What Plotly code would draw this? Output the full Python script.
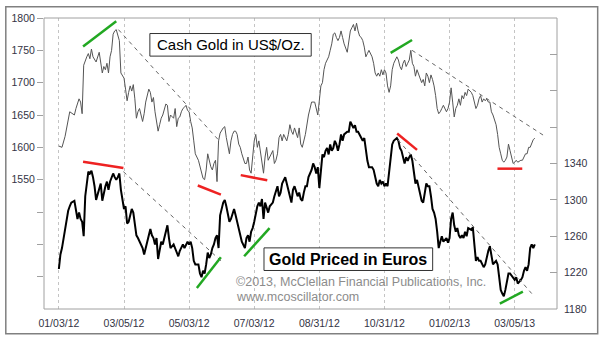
import plotly.graph_objects as go

# ---------------- data (trading-day index from 01/03/12) ----------------
usd_days = [0, 2, 4, 6, 7, 10, 11, 13, 14, 15, 16, 18, 19, 20, 21, 22, 24, 26, 28, 29, 30, 31, 32, 33, 34, 35, 36, 37, 38, 39,
            40, 42, 43, 44, 45, 46, 47, 48, 49, 50, 51, 52, 53, 54, 55, 56, 58, 59, 60, 61, 62, 63, 64, 65, 66, 67, 68, 69, 70,
            71, 72, 74, 75, 76, 77, 78, 79, 80, 81, 82, 83, 84, 85, 86, 87, 88, 90, 91, 92, 93, 94, 95, 96, 97, 98, 99, 100,
            101, 102, 103, 104, 106, 107, 108, 109, 110, 111, 112, 113, 114, 115, 116, 117, 118, 120, 121, 122, 123, 124,
            125, 126, 127, 128, 129, 130, 131, 132, 133, 134, 135, 136, 138, 139, 140, 141, 142, 143, 144, 145, 146, 147,
            148, 149, 150, 151, 152, 154, 155, 156, 157, 159, 161, 163, 165, 166, 167, 169, 170, 171, 172, 173, 174, 175,
            176, 177, 178, 179, 180, 181, 182, 183, 184, 186, 187, 188, 189, 190, 191, 192, 193, 194, 195, 196, 197, 198,
            199, 200, 202, 203, 204, 205, 206, 207, 208, 209, 210, 211, 212, 213, 214, 215, 216, 218, 219, 220, 221, 222,
            223, 224, 225, 226, 227, 228, 229, 230, 231, 232, 234, 235, 236, 237, 238, 239, 240, 241, 242, 243, 244, 245,
            246, 247, 248, 250, 251, 252, 253, 254, 255, 256, 257, 258, 259, 260, 261, 262, 263, 264, 266, 267, 268, 269,
            270, 271, 272, 273, 274, 275, 276, 277, 278, 279, 280, 282, 283, 284, 285, 286, 287, 288, 289, 290, 291, 292,
            293, 294, 295, 296, 298, 299, 300, 301, 302, 303, 304, 305, 306, 307]
usd_vals = [1602, 1600, 1617, 1640, 1655, 1650, 1660, 1675, 1670, 1652, 1727, 1740, 1745, 1737, 1752, 1740, 1732, 1747, 1715,
            1725, 1720, 1730, 1715, 1740, 1750, 1775, 1780, 1782, 1775, 1765,
            1715, 1707, 1690, 1672, 1685, 1695, 1687, 1697, 1675, 1645, 1655, 1660, 1650, 1640, 1652, 1670, 1690, 1685,
            1670, 1677, 1655, 1640, 1625, 1635, 1645, 1650, 1660, 1667, 1665,
            1640, 1650, 1645, 1660, 1632, 1645, 1647, 1655, 1660, 1662, 1665, 1657, 1655, 1640, 1630, 1610, 1590, 1580,
            1570, 1560, 1552, 1550, 1565, 1590, 1580, 1570, 1565, 1575,
            1580, 1547, 1610, 1622, 1630, 1632, 1615, 1600, 1590, 1610, 1620, 1625, 1625, 1620, 1605, 1600, 1590, 1575,
            1575, 1585, 1565, 1560,
            1590, 1610, 1620, 1600, 1610, 1595, 1580, 1560, 1585, 1600, 1580, 1585, 1595, 1575, 1580, 1590, 1615, 1620,
            1610, 1620, 1615, 1610,
            1620, 1635, 1625, 1620, 1630, 1615, 1630, 1605, 1600, 1620, 1650, 1670, 1670, 1660, 1650, 1695, 1700, 1720,
            1730, 1735, 1740, 1750,
            1760, 1775, 1777, 1770, 1765, 1770, 1780, 1770, 1760, 1747, 1765, 1780, 1785, 1790, 1780, 1792, 1780, 1772,
            1770, 1765, 1755, 1740,
            1745, 1750, 1740, 1730, 1715, 1710, 1715, 1710, 1720, 1712, 1720, 1715, 1695, 1685, 1695, 1720, 1730, 1740,
            1735, 1725, 1720, 1730,
            1735, 1725, 1730, 1735, 1750, 1730, 1725, 1710, 1720, 1712, 1700, 1705, 1695, 1715, 1710, 1700, 1712, 1705,
            1695, 1680, 1660, 1652,
            1655, 1660, 1665, 1655, 1660, 1670, 1692, 1670, 1647, 1660, 1665, 1675, 1665, 1680, 1675, 1685, 1680, 1690,
            1685, 1680, 1670, 1660,
            1665, 1675, 1680, 1670, 1675, 1672, 1675, 1670, 1670, 1655, 1650, 1635, 1620, 1600, 1590, 1580, 1577, 1580,
            1585, 1605, 1595, 1582,
            1575, 1577, 1580, 1577, 1580, 1580, 1585, 1590, 1590, 1600, 1600, 1607, 1612, 1614]

eur_days = [0, 1, 2, 3, 4, 5, 6, 7, 8, 10, 11, 12, 13, 14, 15, 16, 17, 18, 19, 20, 21, 22, 23, 24, 26, 27, 28, 29, 30, 31,
            32, 33, 34, 35, 36, 37, 38, 39, 40, 42, 43, 44, 45, 46, 47, 48, 49, 50, 51, 52, 53, 54, 55, 56, 58, 59, 60, 61,
            62, 63, 64, 65, 66, 67, 68, 69, 70, 71, 72, 74, 75, 76, 77, 78, 79, 80, 81, 82, 83, 84, 85, 86, 87, 88, 90, 91,
            92, 93, 94, 95, 96, 97, 98, 99, 100, 101, 102, 103, 104, 106, 107, 108, 109, 110, 111, 112, 113, 114, 115, 116,
            117, 118, 120, 121, 122, 123, 124, 125, 126, 127, 128, 129, 130, 131, 132, 133, 134, 135, 136, 138, 139, 140,
            141, 142, 143, 144, 145, 146, 147, 148, 149, 150, 151, 152, 154, 155, 156, 157, 158, 159, 160, 161, 162, 163,
            164, 165, 166, 167, 168, 170, 171, 172, 173, 174, 175, 176, 177, 178, 179, 180, 181, 182, 183, 184, 186, 187,
            188, 189, 190, 191, 192, 193, 194, 195, 196, 197, 198, 199, 200, 202, 203, 204, 205, 206, 207, 208, 209, 210,
            211, 212, 213, 214, 215, 216, 218, 219, 220, 221, 222, 223, 224, 225, 226, 227, 228, 229, 230, 231, 232, 234,
            235, 236, 237, 238, 239, 240, 241, 242, 243, 244, 245, 246, 247, 248, 250, 251, 252, 253, 254, 255, 256, 257,
            258, 259, 260, 261, 262, 263, 264, 266, 267, 268, 269, 270, 271, 272, 273, 274, 275, 276, 277, 278, 279, 280,
            282, 283, 284, 285, 286, 287, 288, 289, 290, 291, 292, 293, 294, 295, 296, 298, 299, 300, 301, 302, 303, 304,
            305, 306, 307]
eur_vals = [1224, 1240, 1247, 1258, 1268, 1276, 1288, 1293, 1297, 1299, 1290, 1279, 1286, 1279, 1276, 1260, 1304, 1315, 1331,
            1329, 1332, 1325, 1315, 1300, 1311, 1318, 1299, 1308, 1315, 1320,
            1311, 1320, 1324, 1329, 1325, 1322, 1325, 1329, 1311, 1290, 1293, 1274, 1276, 1284, 1290, 1286, 1272, 1261,
            1258, 1254, 1251, 1247, 1240, 1247, 1261, 1268, 1261, 1258,
            1251, 1258, 1235, 1247, 1254, 1251, 1258, 1265, 1272, 1258, 1247, 1251, 1247, 1244, 1238, 1244, 1247, 1251,
            1247, 1251, 1254, 1251, 1254, 1247, 1233, 1229, 1229, 1219,
            1215, 1222, 1219, 1229, 1242, 1236, 1240, 1247, 1251, 1258, 1261, 1247, 1283, 1297, 1300, 1293, 1283, 1276,
            1279, 1286, 1290, 1283, 1276, 1268,
            1261, 1254, 1247, 1258, 1261, 1254, 1265, 1269, 1276, 1286, 1293, 1297, 1293, 1301, 1279, 1297, 1290, 1286,
            1293, 1297, 1304, 1311,
            1315, 1304, 1308, 1318, 1322, 1325, 1318, 1311, 1301, 1297, 1311, 1315, 1304, 1308, 1301, 1299, 1308, 1315,
            1315, 1325, 1329, 1333,
            1340, 1336, 1329, 1336, 1313, 1350, 1347, 1354, 1357, 1350, 1361, 1354, 1357, 1365, 1361, 1354, 1361, 1372,
            1365, 1372, 1375, 1375,
            1386, 1382, 1379, 1382, 1375, 1375, 1372, 1368, 1365, 1368, 1354, 1343, 1336, 1336, 1333, 1325, 1318, 1315,
            1322, 1318, 1320, 1315,
            1318, 1315, 1333, 1350, 1361, 1365, 1368, 1365, 1357, 1354, 1347, 1340, 1347, 1343, 1347, 1350, 1343, 1329,
            1318, 1322, 1315, 1299,
            1297, 1308, 1318, 1315, 1315, 1304, 1290, 1286, 1279, 1265, 1247, 1254, 1260, 1254, 1258, 1253, 1258, 1279,
            1286, 1272, 1265, 1269,
            1261, 1258, 1261, 1258, 1265, 1260, 1269, 1267, 1270, 1251, 1233, 1237, 1233, 1233, 1229, 1226, 1229, 1237,
            1244, 1249, 1237, 1229,
            1233, 1229, 1215, 1201, 1197, 1194, 1201, 1212, 1219, 1219, 1217, 1215, 1212, 1215, 1208, 1212, 1215, 1222,
            1226, 1222, 1229, 1247,
            1251, 1247, 1251]

x_tick_days = [0, 42, 84, 126, 168, 210, 252, 294]
x_tick_labels = ["01/03/12", "03/05/12", "05/03/12", "07/03/12", "08/31/12", "10/31/12", "01/02/13", "03/05/13"]

usd_ticks = [1400, 1450, 1500, 1550, 1600, 1650, 1700, 1750, 1800]
usd_labels = ["", "", "", "1550", "1600", "1650", "1700", "1750", "1800"]
eur_ticks = [1180, 1220, 1260, 1300, 1340, 1380, 1420, 1460]
eur_labels = ["1180", "1220", "1260", "1300", "1340", "", "", ""]

# annotation segments: (day0, value0, day1, value1)
usd_green = [(15.6, 1756, 37.0, 1795), (214.0, 1746, 227.8, 1766)]
usd_red = [(89.6, 1541, 104.5, 1527), (117.3, 1557, 134.4, 1549), (282.9, 1567, 298.9, 1567)]
usd_dash = [(38.4, 1782, 103.5, 1610), (227.8, 1750, 313.6, 1617)]
eur_green = [(89.0, 1203, 104.5, 1237), (119.5, 1238, 135.9, 1269), (284.4, 1186, 299.3, 1199)]
eur_red = [(15.6, 1342, 41.6, 1335), (218.2, 1373, 231.0, 1355)]
eur_dash = [(41.6, 1331, 104.5, 1233), (218.7, 1366, 305.0, 1197)]

# ---------------- figure ----------------
FONT = "Liberation Sans, Arial, sans-serif"
PW, PH = 517.0, 300.0   # plot area size in px (for paper-coordinate placement)

fig = go.Figure()
fig.add_trace(go.Scatter(x=usd_days, y=usd_vals, mode="lines", yaxis="y",
                         line=dict(color="#555555", width=1), showlegend=False, hoverinfo="skip"))
fig.add_trace(go.Scatter(x=eur_days, y=eur_vals, mode="lines", yaxis="y2",
                         line=dict(color="#000000", width=2), showlegend=False, hoverinfo="skip"))

shapes = []
def seg(lst, yref, color, width, dash="solid"):
    for (a, b, c, d) in lst:
        shapes.append(dict(type="line", xref="x", yref=yref, x0=a, y0=b, x1=c, y1=d,
                           line=dict(color=color, width=width, dash=dash)))

seg(usd_dash, "y", "#666666", 1, "4px,4px")
seg(eur_dash, "y2", "#666666", 1, "4px,4px")
seg(usd_green, "y", "#22a822", 2.5)
seg(eur_green, "y2", "#22a822", 2.5)
seg(usd_red, "y", "#ee2222", 2.5)
seg(eur_red, "y2", "#ee2222", 2.5)

def box(px0, py0, px1, py1):
    # pixel box (relative to plot-area top-left) -> paper rect, white fill, dark border
    shapes.append(dict(type="rect", xref="paper", yref="paper", layer="above",
                       x0=px0 / PW, x1=px1 / PW, y0=1 - py1 / PH, y1=1 - py0 / PH,
                       fillcolor="white", line=dict(color="#333333", width=1)))

box(106.7, 16.0, 269.3, 39.3)    # Cash Gold title box
box(221.7, 237.0, 391.7, 260.3)  # Gold Priced in Euros box

# plot frame and outer frame
shapes.append(dict(type="rect", xref="paper", yref="paper", x0=0, y0=0, x1=1, y1=1,
                   line=dict(color="#a0a0a0", width=1)))
shapes.append(dict(type="rect", xref="paper", yref="paper",
                   x0=-38.5 / PW, y0=-25.5 / PH, x1=558 / PW, y1=311.5 / PH,
                   line=dict(color="#808080", width=1.5)))

annotations = [
    dict(text="Cash Gold in US$/Oz.", xref="paper", yref="paper", x=188 / PW, y=1 - 27.8 / PH,
         xanchor="center", yanchor="middle",
         showarrow=False, font=dict(family=FONT, size=15, color="#000")),
    dict(text="<b>Gold Priced in Euros</b>", xref="paper", yref="paper", x=306.7 / PW, y=1 - 248.8 / PH,
         xanchor="center", yanchor="middle",
         showarrow=False, font=dict(family=FONT, size=16, color="#000")),
    dict(text="©2013, McClellan Financial Publications, Inc.", xref="paper", yref="paper",
         x=191.5 / PW, y=28 / PH, xanchor="left", yanchor="middle", showarrow=False,
         font=dict(family=FONT, size=12.5, color="#8c8c8c")),
    dict(text="www.mcoscillator.com", xref="paper", yref="paper",
         x=191.5 / PW, y=12 / PH, xanchor="left", yanchor="middle", showarrow=False,
         font=dict(family=FONT, size=12.5, color="#8c8c8c")),
]

fig.update_layout(
    width=600, height=341,
    margin=dict(l=40, r=43, t=13, b=28),
    paper_bgcolor="white", plot_bgcolor="white",
    shapes=shapes, annotations=annotations,
    font=dict(family=FONT, size=10.5, color="#333344"),
    xaxis=dict(range=[-9.6, 321.3], tickvals=x_tick_days, ticktext=x_tick_labels,
               showgrid=True, gridcolor="#c4c4c4", griddash="dot", gridwidth=1,
               zeroline=False, ticks="", showline=False, fixedrange=True, ticklabelstandoff=6),
    yaxis=dict(range=[1350, 1800], tickvals=usd_ticks, ticktext=usd_labels,
               showgrid=False, zeroline=False, ticks="outside", ticklen=6, tickcolor="#a0a0a0",
               showline=False),
    yaxis2=dict(range=[1180, 1500], tickvals=eur_ticks, ticktext=eur_labels, overlaying="y", side="right",
                showgrid=False, zeroline=False, ticks="inside", ticklen=7, tickcolor="#a0a0a0",
                showline=False, ticklabelstandoff=6),
)

fig.write_html("out.html")
